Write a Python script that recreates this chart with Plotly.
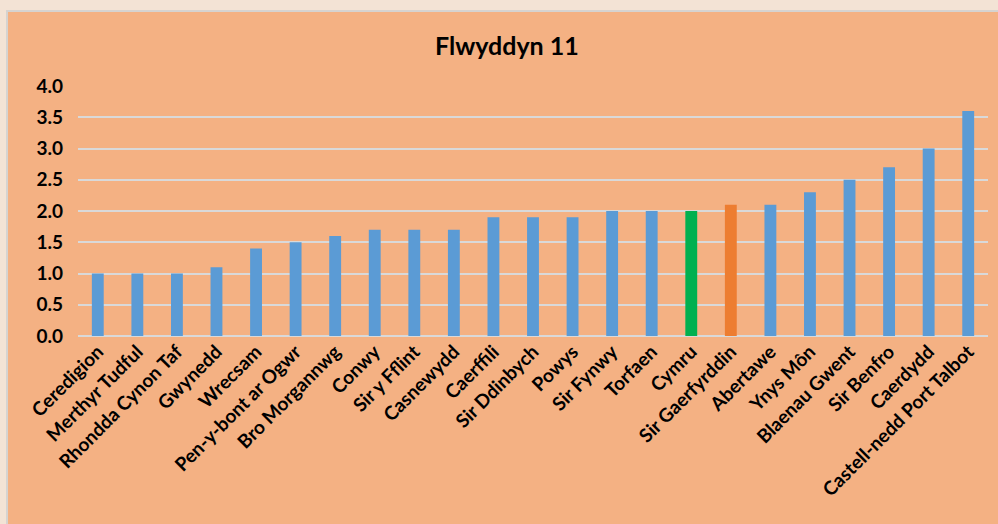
import plotly.graph_objects as go

categories = ["Ceredigion", "Merthyr Tudful", "Rhondda Cynon Taf", "Gwynedd", "Wrecsam",
              "Pen-y-bont ar Ogwr", "Bro Morgannwg", "Conwy", "Sir y Fflint", "Casnewydd",
              "Caerffili", "Sir Ddinbych", "Powys", "Sir Fynwy", "Torfaen", "Cymru",
              "Sir Gaerfyrddin", "Abertawe", "Ynys Môn", "Blaenau Gwent", "Sir Benfro",
              "Caerdydd", "Castell-nedd Port Talbot"]
values = [1.0, 1.0, 1.0, 1.1, 1.4, 1.5, 1.6, 1.7, 1.7, 1.7, 1.9, 1.9, 1.9, 2.0, 2.0, 2.0,
          2.1, 2.1, 2.3, 2.5, 2.7, 3.0, 3.6]
highlight = {"Cymru": "#00B050", "Sir Gaerfyrddin": "#ED7D31"}
y_ticks = [0.0, 0.5, 1.0, 1.5, 2.0, 2.5, 3.0, 3.5, 4.0]
title_text = "Flwyddyn 11"

colors = [highlight.get(c, "#5B9BD5") for c in categories]
FONT = "Lato, Open Sans, sans-serif"

fig = go.Figure(go.Bar(x=categories, y=values, marker=dict(color=colors, line=dict(width=0))))

fig.update_layout(
    width=998, height=524,
    margin=dict(l=78, r=10, t=86, b=188, autoexpand=False),
    paper_bgcolor="#F3E3D5",
    plot_bgcolor="rgba(0,0,0,0)",
    bargap=0.70,
    showlegend=False,
    shapes=[dict(type="rect", xref="paper", yref="paper", x0=-0.078, x1=1.05,
                 y0=-0.8, y1=1.3, fillcolor="#F4B183", line=dict(color="#D6D3D0", width=2),
                 layer="below")],
    annotations=[
        dict(text="<b>" + title_text + "</b>", xref="paper", yref="paper", x=(507 - 78) / 910,
             y=(336 - 45) / 250, xanchor="center", yanchor="middle", showarrow=False,
             font=dict(family=FONT, size=25, color="#000000")),
        dict(text="gy", xref="paper", yref="paper", x=(70 - 78) / 910, y=(336 - 3) / 250,
             xanchor="left", yanchor="bottom", showarrow=False,
             font=dict(family=FONT, size=26, color="#000000")),
    ],
)
fig.update_xaxes(tickangle=-45, tickfont=dict(family=FONT, size=19, color="#000000", weight="bold"),
                 showgrid=False, showline=False, ticks="", zeroline=False)
fig.update_yaxes(range=[0, 4], tickvals=y_ticks, ticktext=[f"{v:.1f}" for v in y_ticks],
                 tickfont=dict(family=FONT, size=19, color="#000000", weight="bold"),
                 showgrid=True, gridcolor="#D9D9D9", gridwidth=1.5, zeroline=True,
                 zerolinecolor="#D9D9D9", zerolinewidth=1.5, showline=False, ticks="",
                 ticklabelstandoff=14)
fig.write_html("out.html", config={"displayModeBar": False})
with open("out.html", encoding="utf-8") as f:
    html = f.read()
html = html.replace("<head>", "<head><style>html,body{margin:0;padding:0;overflow:hidden}</style>", 1)
with open("out.html", "w", encoding="utf-8") as f:
    f.write(html)
